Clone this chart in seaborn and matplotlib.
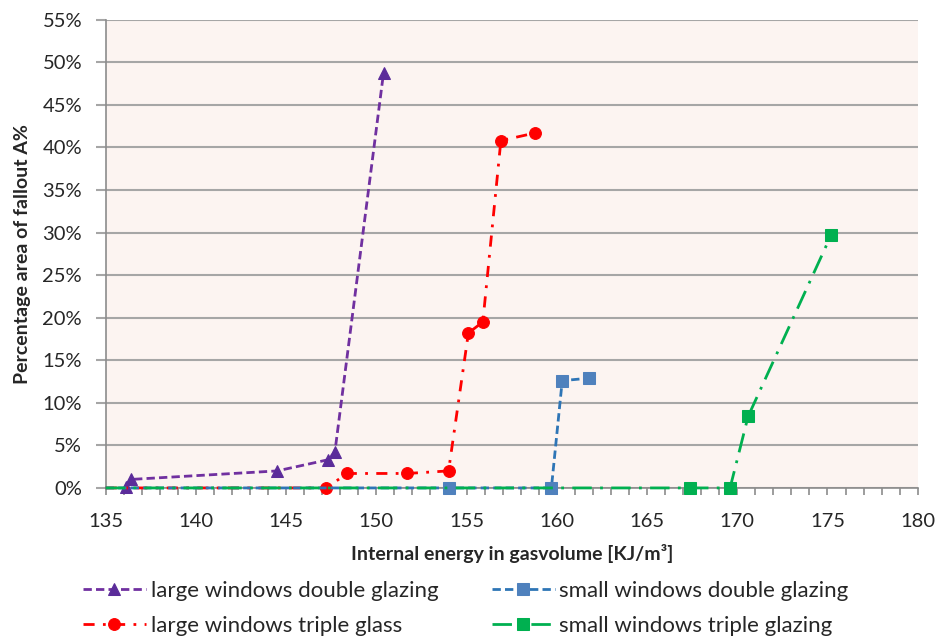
import numpy as np
import pandas as pd
import seaborn as sns
import matplotlib.pyplot as plt
from matplotlib.ticker import MultipleLocator, FuncFormatter

# values (x = internal energy kJ/m3, y = fallout %)
large_double_x = [136.1, 136.4, 144.5, 147.3, 147.7, 150.4]
large_double_y = [0.1, 1.0, 2.0, 3.3, 4.2, 48.8]
large_triple_x = [135.0, 147.2, 148.4, 151.7, 154.0, 155.1, 155.9, 156.9, 158.8]
large_triple_y = [0.0, 0.0, 1.7, 1.7, 2.0, 18.2, 19.5, 40.8, 41.7]
small_double_x = [135.0, 154.0, 159.7, 160.3, 161.8]
small_double_y = [0.0, 0.0, 0.0, 12.6, 12.9]
small_triple_x = [135.0, 167.4, 169.6, 170.6, 175.2]
small_triple_y = [0.0, 0.0, 0.0, 8.4, 29.7]

labels = ["large windows double glazing", "large windows triple glass",
          "small windows double glazing", "small windows triple glazing"]

sns.set_style("white")
plt.rcParams['font.family'] = ['Lato', 'DejaVu Sans']

fig = plt.figure(figsize=(9.52, 6.37), dpi=100)
ax = fig.add_axes([0.111, 0.234, 0.853, 0.735])
ax.set_facecolor('#FCF4F1')

series = [
    (large_double_x, large_double_y, '#7030A0', '#5B2C9A', '^', (0, (3, 1.5)), None),
    (large_triple_x, large_triple_y, '#FF0000', '#FF0000', 'o', (0, (4, 3, 1, 3)), slice(1, None)),
    (small_double_x, small_double_y, '#2E75B6', '#4F81BD', 's', (0, (3, 1.5)), slice(1, None)),
    (small_triple_x, small_triple_y, '#00B050', '#00B050', 's', (0, (7, 3, 1, 3)), slice(1, None)),
]
for (xs, ys, lc, mc, mk, ls, me), lab in zip(series, labels):
    df = pd.DataFrame({'x': xs, 'y': ys})
    sns.lineplot(data=df, x='x', y='y', ax=ax, sort=False, color=lc, linestyle=ls,
                 linewidth=2, marker=mk, markersize=9 if mk != 'o' else 8.5,
                 markerfacecolor=mc, markeredgecolor=mc, markevery=me,
                 label=lab, clip_on=False, zorder=3)

ax.set_xlim(135, 180)
ax.set_ylim(0, 55)
ax.xaxis.set_major_locator(MultipleLocator(5))
ax.xaxis.set_minor_locator(MultipleLocator(1))
ax.yaxis.set_major_locator(MultipleLocator(5))
ax.yaxis.set_major_formatter(FuncFormatter(lambda v, p: f"{v:.0f}%"))
ax.grid(axis='y', color='#A6A6A6', linewidth=1.5)
ax.set_axisbelow(True)
for s in ['top', 'right']:
    ax.spines[s].set_visible(False)
for s in ['left', 'bottom']:
    ax.spines[s].set_color('#8C8C8C')
    ax.spines[s].set_linewidth(1.2)
ax.tick_params(axis='x', which='major', direction='out', length=5, width=1.2, color='#8C8C8C',
               labelsize=14.5, labelcolor='#262626', pad=13, bottom=True)
ax.tick_params(axis='x', which='minor', direction='out', length=5, width=1.2, color='#8C8C8C', bottom=True)
ax.tick_params(axis='y', which='major', direction='out', length=7, width=1.5, color='#A6A6A6',
               labelsize=14.5, labelcolor='#262626', pad=10, left=True)

ax.set_xlabel("Internal energy in gasvolume [KJ/m³]", fontsize=14, fontweight='bold', color='#262626', labelpad=10)
ax.set_ylabel("Percentage area of fallout A%", fontsize=14, fontweight='bold', color='#262626', labelpad=8)

handles, labs = ax.get_legend_handles_labels()
ax.get_legend().remove()
fig.legend(handles, labs, ncol=2, frameon=False, loc='upper left',
           bbox_to_anchor=(0.087, 0.088), borderpad=0, borderaxespad=0, fontsize=16,
           handlelength=2.85, handletextpad=0.2, columnspacing=2.4, labelspacing=0.68,
           labelcolor='#262626')

fig.savefig("out.png", dpi=100)
